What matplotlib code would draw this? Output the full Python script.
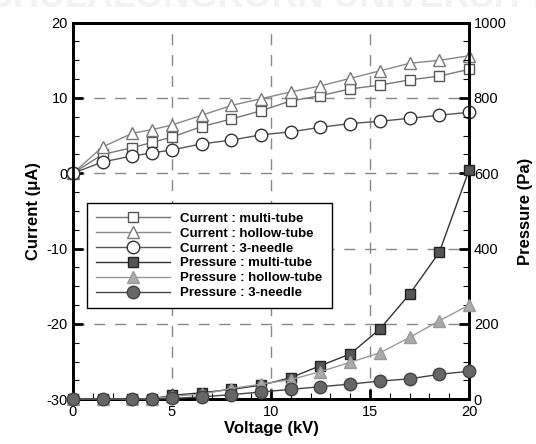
import numpy as np
import matplotlib
matplotlib.use('Agg')
import matplotlib.pyplot as plt
from matplotlib.ticker import MultipleLocator

plt.rcParams['font.family'] = ['Liberation Sans', 'DejaVu Sans']
plt.rcParams['axes.unicode_minus'] = False

# Données
voltage = [0, 1.5, 3, 4, 5, 6.5, 8, 9.5, 11, 12.5, 14, 15.5, 17, 18.5, 20]

cur_multi = [0, 2.5, 3.4, 4.1, 4.8, 6.2, 7.2, 8.3, 9.6, 10.3, 11.2, 11.7, 12.4, 12.9, 13.8]
cur_hollow = [0, 3.5, 5.3, 5.8, 6.4, 7.7, 9.0, 9.9, 10.8, 11.6, 12.6, 13.6, 14.6, 15.0, 15.6]
cur_needle = [0, 1.5, 2.3, 2.7, 3.1, 3.9, 4.4, 5.1, 5.5, 6.1, 6.6, 6.9, 7.3, 7.7, 8.1]

pres_multi = [0, 0, 0, 1, 10, 17, 26, 37, 57, 89, 120, 186, 279, 390, 608]
pres_hollow = [0, 0, 0, 1, 8, 13, 28, 40, 52, 73, 98, 123, 164, 208, 250]
pres_needle = [0, 0, 0, 0, 2, 6, 12, 19, 26, 33, 40, 48, 54, 66, 74]

labels = ['Current : multi-tube', 'Current : hollow-tube', 'Current : 3-needle',
          'Pressure : multi-tube', 'Pressure : hollow-tube', 'Pressure : 3-needle']

fig = plt.figure(figsize=(5.36, 4.44), dpi=100)
ax = fig.add_axes([0.136, 0.101, 0.739, 0.848])
ax2 = ax.twinx()

# Courant (axe de gauche)
h1, = ax.plot(voltage, cur_multi, '-s', color='#777777', mfc='white', mec='#555555',
              ms=7.5, lw=1, label=labels[0], clip_on=False, zorder=3)
h2, = ax.plot(voltage, cur_hollow, '-^', color='#888888', mfc='white', mec='#777777',
              ms=9, lw=1, label=labels[1], clip_on=False, zorder=3)
h3, = ax.plot(voltage, cur_needle, '-o', color='#555555', mfc='white', mec='#333333',
              ms=9, lw=1, label=labels[2], clip_on=False, zorder=3)

# Pression (axe de droite)
h4, = ax2.plot(voltage, pres_multi, '-s', color='#333333', mfc='#555555', mec='#222222',
               ms=7.5, lw=1, label=labels[3], clip_on=False, zorder=3)
h5, = ax2.plot(voltage, pres_hollow, '-^', color='#999999', mfc='#aaaaaa', mec='#999999',
               ms=9, lw=1, label=labels[4], clip_on=False, zorder=3)
h6, = ax2.plot(voltage, pres_needle, '-o', color='#444444', mfc='#666666', mec='#444444',
               ms=9, lw=1, label=labels[5], clip_on=False, zorder=3)

ax.set_xlim(0, 20)
ax.set_ylim(-30, 20)
ax2.set_ylim(0, 1000)

ax.xaxis.set_major_locator(MultipleLocator(5))
ax.xaxis.set_minor_locator(MultipleLocator(1))
ax.yaxis.set_major_locator(MultipleLocator(10))
ax.yaxis.set_minor_locator(MultipleLocator(2.5))
ax2.yaxis.set_major_locator(MultipleLocator(200))
ax2.yaxis.set_minor_locator(MultipleLocator(50))

for a in (ax, ax2):
    a.tick_params(which='major', direction='in', length=7, width=2, labelsize=10.5)
    a.tick_params(which='minor', direction='in', length=4, width=0.8)
    for s in a.spines.values():
        s.set_linewidth(2)
ax.tick_params(axis='x', pad=4)

ax.grid(True, which='major', color='#888888', ls=(0, (8, 7)), lw=1)

ax.set_xlabel('Voltage (kV)', fontsize=12, fontweight='bold', labelpad=2)
ax.set_ylabel('Current (μA)', fontsize=12, fontweight='bold', labelpad=4)
ax2.set_ylabel('Pressure (Pa)', fontsize=12, fontweight='bold', labelpad=8)

leg = ax2.legend(handles=[h1, h2, h3, h4, h5, h6], loc='upper left',
                 bbox_to_anchor=(0.035, 0.52), handlelength=5.6,
                 labelspacing=0.2, fancybox=False, framealpha=1,
                 edgecolor='black', borderpad=0.7, handletextpad=0.8,
                 borderaxespad=0, prop={'weight': 'bold', 'size': 9.5})
leg.get_frame().set_linewidth(1)

# Filigrane partiellement coupé en haut
fig.text(0.5, 1.005, 'CHULALONGKORN UNIVERSITY', ha='center', va='center',
         fontsize=26, fontweight='bold', color='#f2f2f2', zorder=0)

fig.savefig('out.png', dpi=100)
